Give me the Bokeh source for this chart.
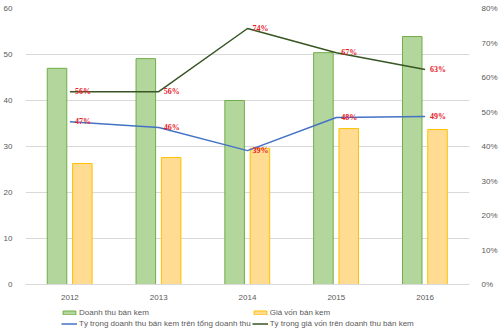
from bokeh.plotting import figure
from bokeh.layouts import column
from bokeh.models import (ColumnDataSource, Range1d, LinearAxis, Legend, LegendItem,
                          FixedTicker, NumeralTickFormatter, LabelSet)
from bokeh.transform import dodge
from bokeh.embed import file_html
from bokeh.resources import INLINE

years = ["2012", "2013", "2014", "2015", "2016"]
revenue = [47.0, 49.1, 40.0, 50.4, 53.9]
cost = [26.3, 27.6, 29.6, 33.9, 33.7]
share_revenue = [0.472, 0.455, 0.388, 0.484, 0.487]
share_cost = [0.559, 0.559, 0.742, 0.672, 0.623]
share_revenue_labels = ["47%", "46%", "39%", "48%", "49%"]
share_cost_labels = ["56%", "56%", "74%", "67%", "63%"]
left_ticks = [0, 10, 20, 30, 40, 50, 60]
right_ticks = [0, 0.1, 0.2, 0.3, 0.4, 0.5, 0.6, 0.7, 0.8]
series_names = ["Doanh thu bán kem", "Giá vốn bán kem",
                "Tỷ trọng doanh thu bán kem trên tổng doanh thu",
                "Tỷ trọng giá vốn trên doanh thu bán kem"]

FONT = "Liberation Sans"
GRAY = "#595959"
GREEN_FILL, GREEN_LINE = "#b3d69c", "#70ad47"
YEL_FILL, YEL_LINE = "#ffdc91", "#ffc000"
BLUE, DARK = "#4472c4", "#375623"

src = ColumnDataSource(dict(year=years, revenue=revenue, cost=cost,
                            sr=share_revenue, sc=share_cost,
                            srl=share_revenue_labels, scl=share_cost_labels))

p = figure(x_range=years, y_range=Range1d(0, 60), width=500, height=302,
           output_backend="svg", toolbar_location=None,
           min_border_left=21, min_border_right=27, min_border_top=8, min_border_bottom=18)
p.extra_y_ranges = {"pct": Range1d(0, 0.8)}

p.outline_line_color = None
p.xgrid.grid_line_color = None
p.ygrid.grid_line_color = "#d9d9d9"
p.ygrid.ticker = FixedTicker(ticks=left_ticks)

p.vbar(x=dodge("year", -0.145, range=p.x_range), top="revenue", width=0.22, source=src,
       fill_color=GREEN_FILL, line_color=GREEN_LINE, line_width=1)
p.vbar(x=dodge("year", 0.14, range=p.x_range), top="cost", width=0.22, source=src,
       fill_color=YEL_FILL, line_color=YEL_LINE, line_width=1)
p.line(x="year", y="sr", source=src, y_range_name="pct", line_color=BLUE, line_width=1.5)
p.line(x="year", y="sc", source=src, y_range_name="pct", line_color=DARK, line_width=1.5)

for col, ycol in (("srl", "sr"), ("scl", "sc")):
    ls = LabelSet(x="year", y=ycol, text=col, source=src, y_range_name="pct",
                  x_offset=5, y_offset=0, text_align="left", text_baseline="middle",
                  text_font=FONT, text_font_size="8px", text_font_style="bold",
                  text_color="#e8202a")
    p.add_layout(ls)

ax = p.xaxis[0]
ax.axis_line_color = "#d9d9d9"
ax.major_tick_line_color = None
ax.minor_tick_line_color = None
ax.major_label_text_font = FONT
ax.major_label_text_font_size = "8px"
ax.major_label_text_color = GRAY
ax.major_label_standoff = 4

ay = p.yaxis[0]
ay.ticker = FixedTicker(ticks=left_ticks)
ay.axis_line_color = None
ay.major_tick_line_color = None
ay.minor_tick_line_color = None
ay.major_label_text_font = FONT
ay.major_label_text_font_size = "8px"
ay.major_label_text_color = GRAY
ay.major_label_standoff = 7

ar = LinearAxis(y_range_name="pct", ticker=FixedTicker(ticks=right_ticks),
                formatter=NumeralTickFormatter(format="0%"))
ar.axis_line_color = None
ar.major_tick_line_color = None
ar.minor_tick_line_color = None
ar.major_label_text_font = FONT
ar.major_label_text_font_size = "8px"
ar.major_label_text_color = GRAY
ar.major_label_standoff = 6
p.add_layout(ar, "right")

# legend strip (keys only; its renderers sit outside the visible range)
q = figure(width=500, height=32, x_range=Range1d(0, 1), y_range=Range1d(0, 1),
           output_backend="svg", toolbar_location=None,
           min_border_left=0, min_border_right=0, min_border_top=0, min_border_bottom=0)
q.axis.visible = False
q.grid.visible = False
q.outline_line_color = None
r1 = q.vbar(x=[-5], top=[-5], width=0.1, fill_color=GREEN_FILL, line_color=GREEN_LINE)
r2 = q.vbar(x=[-5], top=[-5], width=0.1, fill_color=YEL_FILL, line_color=YEL_LINE)
r3 = q.line(x=[-5, -4], y=[-5, -5], line_color=BLUE, line_width=1.5)
r4 = q.line(x=[-5, -4], y=[-5, -5], line_color=DARK, line_width=1.5)

legend = Legend(items=[
    LegendItem(label=series_names[0], renderers=[r1]),
    LegendItem(label=series_names[2], renderers=[r3]),
    LegendItem(label=series_names[1], renderers=[r2]),
    LegendItem(label=series_names[3], renderers=[r4]),
], ncols=2, location=(36, 6))
legend.label_text_font = FONT
legend.label_text_font_size = "8px"
legend.label_text_color = GRAY
legend.glyph_width = 16
legend.glyph_height = 5
legend.label_height = 10
legend.label_standoff = 2
legend.spacing = 1
legend.padding = 0
legend.margin = 0
legend.border_line_color = None
legend.background_fill_alpha = 0
q.add_layout(legend, "center")

layout = column(p, q, spacing=0)
open("out.html", "w").write(file_html(layout, INLINE))
